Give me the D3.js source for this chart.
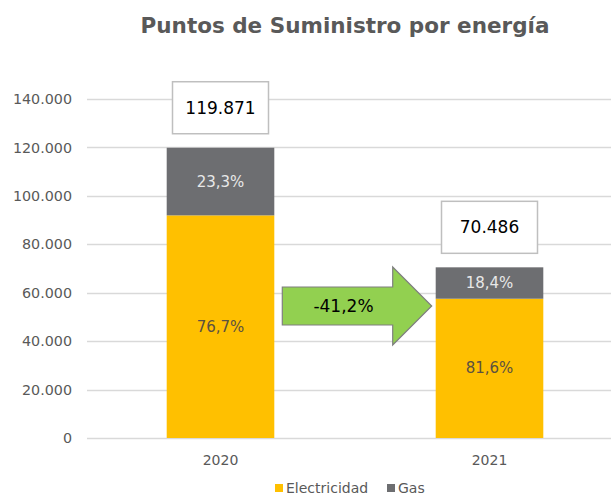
<!DOCTYPE html>
<html>
<head>
<meta charset="utf-8">
<script src="https://cdn.jsdelivr.net/npm/d3@7"></script>
<style>
  body { margin: 0; background: #fff; }
  svg { font-family: 'DejaVu Sans', Verdana, sans-serif; }
</style>
</head>
<body>
<div id="chart"></div>
<script>
const years = ['2020', '2021']
const electricidad = [91941, 57517]
const gas = [27930, 12969]
const totals = [119871, 70486]
const pctElec = ['76,7%', '81,6%']
const pctGas = ['23,3%', '18,4%']
const yTicks = [0, 20000, 40000, 60000, 80000, 100000, 120000, 140000]
const variation = '-41,2%'

const w = 611
const h = 495

const svg = d3.select('#chart')
	.append('svg')
	.attr('width', w)
	.attr('height', h);

const y = d3.scaleLinear()
	.domain([0, 140000])
	.range([438, 99]);

const x = d3.scaleBand()
	.domain(years)
	.range([86, 624])
	.paddingInner(0.6)
	.paddingOuter(0.3);

const fmt = d3.formatLocale({decimal: ',', thousands: '.', grouping: [3], currency: ['', '']}).format(',');

// gridlines
svg.append('g')
	.selectAll('line')
	.data(yTicks)
	.enter()
	.append('line')
		.attr('x1', 87)
		.attr('x2', w)
		.attr('y1', d => Math.round(y(d)) + 0.5)
		.attr('y2', d => Math.round(y(d)) + 0.5)
		.attr('stroke', '#d9d9d9')
		.attr('stroke-width', 1.5);

// y axis labels
const yAxis = d3.axisLeft(y)
	.tickValues(yTicks)
	.tickFormat(d => fmt(d))
	.tickSize(0)
	.tickPadding(0);
const yAxisGroup = svg.append('g')
	.attr('transform', 'translate(72, 0)')
	.call(yAxis);
yAxisGroup.select('.domain').remove();
yAxisGroup.selectAll('text')
	.attr('fill', '#595959')
	.attr('font-size', 14.3)
	.attr('font-family', "'DejaVu Sans', Verdana, sans-serif");

// x axis labels
const xAxis = d3.axisBottom(x).tickSize(0).tickPadding(0);
const xAxisGroup = svg.append('g')
	.attr('transform', 'translate(0, 455)')
	.call(xAxis);
xAxisGroup.select('.domain').remove();
xAxisGroup.selectAll('text')
	.attr('fill', '#595959')
	.attr('font-size', 14)
	.attr('font-family', "'DejaVu Sans', Verdana, sans-serif");

// stacked bars
const data = years.map((yr, i) => ({year: yr, elec: electricidad[i], gas: gas[i], total: totals[i], pe: pctElec[i], pg: pctGas[i]}));

svg.selectAll('rect.elec')
	.data(data)
	.enter()
	.append('rect')
		.attr('class', 'elec')
		.attr('x', d => x(d.year))
		.attr('width', x.bandwidth())
		.attr('y', d => y(d.elec))
		.attr('height', d => y(0) - y(d.elec))
		.attr('fill', '#ffc000');

svg.selectAll('rect.gas')
	.data(data)
	.enter()
	.append('rect')
		.attr('class', 'gas')
		.attr('x', d => x(d.year))
		.attr('width', x.bandwidth())
		.attr('y', d => y(d.elec + d.gas))
		.attr('height', d => y(d.elec) - y(d.elec + d.gas))
		.attr('fill', '#6d6e71');

// segment labels
svg.selectAll('text.pe')
	.data(data)
	.enter()
	.append('text')
		.attr('x', d => x(d.year) + x.bandwidth() / 2)
		.attr('y', d => (y(0) + y(d.elec)) / 2 + 5)
		.attr('text-anchor', 'middle')
		.attr('font-size', 15)
		.attr('fill', '#5b5140')
		.text(d => d.pe);

svg.selectAll('text.pg')
	.data(data)
	.enter()
	.append('text')
		.attr('x', d => x(d.year) + x.bandwidth() / 2)
		.attr('y', d => (y(d.elec) + y(d.elec + d.gas)) / 2 + 5)
		.attr('text-anchor', 'middle')
		.attr('font-size', 15)
		.attr('fill', '#e8e8e8')
		.text(d => d.pg);

// total boxes
const boxW = 96
const boxH = 52
const totalG = svg.selectAll('g.total')
	.data(data)
	.enter()
	.append('g')
		.attr('transform', d => `translate(${x(d.year) + x.bandwidth() / 2}, ${y(d.total) - 40})`);
totalG.append('rect')
	.attr('x', -boxW / 2)
	.attr('y', -boxH / 2)
	.attr('width', boxW)
	.attr('height', boxH)
	.attr('fill', '#fff')
	.attr('stroke', '#bfbfbf')
	.attr('stroke-width', 1.5);
totalG.append('text')
	.attr('text-anchor', 'middle')
	.attr('y', 6)
	.attr('font-size', 17)
	.attr('fill', '#000')
	.text(d => fmt(d.total));

// arrow between bars
const ax0 = x(years[0]) + x.bandwidth() + 8
const ax1 = x(years[1]) - 4
const acy = 306
const headX = ax1 - 39
svg.append('path')
	.attr('d', `M${ax0},${acy - 19} L${headX},${acy - 19} L${headX},${acy - 39} L${ax1},${acy} L${headX},${acy + 39} L${headX},${acy + 19} L${ax0},${acy + 19} Z`)
	.attr('fill', '#92d050')
	.attr('stroke', '#7f7f7f')
	.attr('stroke-width', 1.2);
svg.append('text')
	.attr('x', (ax0 + headX) / 2 + 6)
	.attr('y', acy + 6)
	.attr('text-anchor', 'middle')
	.attr('font-size', 17)
	.attr('fill', '#000')
	.text(variation);

// title
svg.append('text')
	.attr('x', 345)
	.attr('y', 33)
	.attr('text-anchor', 'middle')
	.attr('font-size', 21.5)
	.attr('font-weight', 'bold')
	.attr('fill', '#595959')
	.text('Puntos de Suministro por energía');

// legend
const legend = [{name: 'Electricidad', color: '#ffc000'}, {name: 'Gas', color: '#6d6e71'}];
const lx = [275, 387];
const lg = svg.selectAll('g.legend')
	.data(legend)
	.enter()
	.append('g')
		.attr('transform', (d, i) => `translate(${lx[i]}, 484)`);
lg.append('rect')
	.attr('width', 8)
	.attr('height', 8)
	.attr('fill', d => d.color);
lg.append('text')
	.attr('x', 11)
	.attr('y', 9)
	.attr('font-size', 14)
	.attr('fill', '#595959')
	.text(d => d.name);
</script>
</body>
</html>
